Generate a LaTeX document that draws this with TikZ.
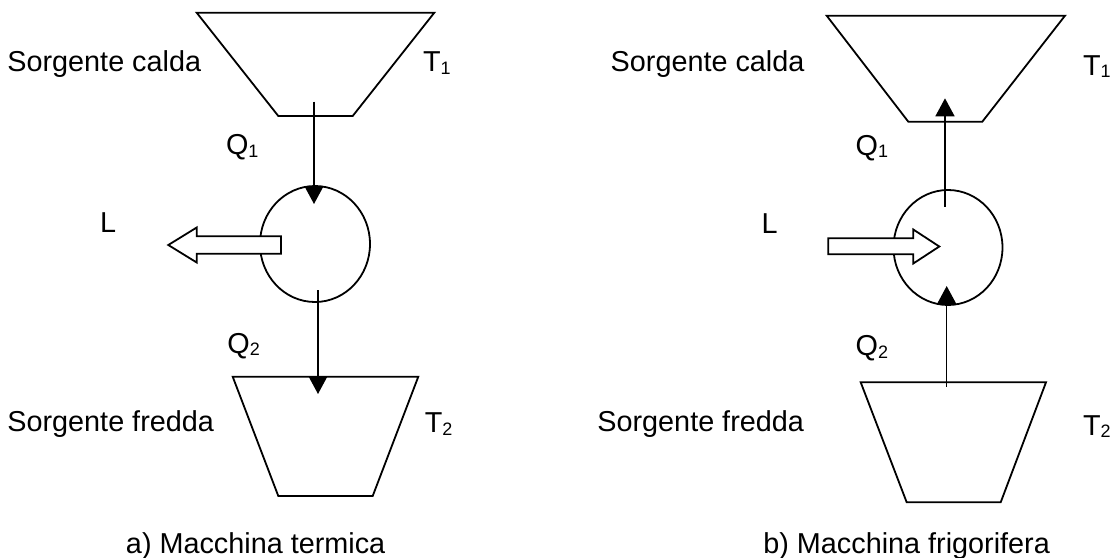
\documentclass[tikz,border=0pt]{standalone}
\usepackage{fontspec}
\setmainfont{Liberation Sans}
\usetikzlibrary{shapes.geometric,arrows.meta,calc}
\newcommand\subidx[1]{\raisebox{-1.4pt}{\fontsize{9}{10}\selectfont #1}}
\begin{document}
\begin{tikzpicture}[x=0.5pt,y=-0.5pt]
\tikzset{
  lbl/.style={anchor=base west, inner sep=0, font=\fontsize{14.4}{17}\selectfont},
  shapeline/.style={line width=0.9pt, line join=miter},
  flow/.style={line width=0.75pt, -{Triangle[length=9pt,width=9.5pt]}},
  blockarrow/.style={draw, fill=white, line width=0.9pt},
  engine/.style={ellipse, draw, line width=0.9pt, inner sep=0}
}
\useasboundingbox (0,0) rectangle (1116,558);

% ---------- a) Macchina termica ----------
\draw[shapeline] (196.7,12.7) -- (434.3,12.7) -- (352.7,116) -- (278.3,116) -- cycle;
\draw[shapeline] (232.7,376.7) -- (418.3,376.7) -- (372.7,496) -- (278.3,496) -- cycle;
\node[engine, minimum width=55pt, minimum height=58pt] (eA) at (315,244) {};
\coordinate (hotA) at (314,101.7);
\coordinate (inA1) at (314,204);
\coordinate (outA) at (318,290);
\coordinate (coldA) at (318,394);
\draw[flow] (hotA) -- (inA1);
\draw[flow] (outA) -- (coldA);
\draw[blockarrow] (281,236.3) -- (196.7,236.3) -- (196.7,227.5) -- (168.3,245)
  -- (196.7,262.5) -- (196.7,253.7) -- (281,253.7) -- cycle;

\node[lbl] (scA) at (7,71.7) {Sorgente calda};
\node[lbl] (t1A) at (422.7,71.7) {T\subidx{1}};
\node[lbl] (q1A) at (225.6,154.3) {Q\subidx{1}};
\node[lbl] (lA) at (99.6,232.3) {L};
\node[lbl] (q2A) at (227,353) {Q\subidx{2}};
\node[lbl] (sfA) at (7,431.7) {Sorgente fredda};
\node[lbl] (t2A) at (424.4,432.3) {T\subidx{2}};
\node[lbl] (capA) at (125.6,553.5) {a) Macchina termica};

% ---------- b) Macchina frigorifera ----------
\draw[shapeline] (826.7,15.7) -- (1065,15.7) -- (982.3,121.7) -- (908.3,121.7) -- cycle;
\draw[shapeline] (860.7,382.3) -- (1046,382.3) -- (1000.7,502.3) -- (906.7,502.3) -- cycle;
\node[engine, minimum width=54.5pt, minimum height=57.5pt] (eB) at (948,247.5) {};
\coordinate (outB) at (945,206.7);
\coordinate (hotB) at (945,98.3);
\coordinate (coldB) at (946.7,386.7);
\coordinate (inB) at (946.7,286);
\draw[flow] (outB) -- (hotB);
\draw[flow] (coldB) -- (inB);
\draw[blockarrow] (828.3,238.3) -- (913.3,238.3) -- (913.3,229.5) -- (939.3,246.5)
  -- (913.3,263.5) -- (913.3,254.3) -- (828.3,254.3) -- cycle;

\node[lbl] (scB) at (610.3,71.7) {Sorgente calda};
\node[lbl] (t1B) at (1082.7,75) {T\subidx{1}};
\node[lbl] (q1B) at (855.3,155) {Q\subidx{1}};
\node[lbl] (lB) at (761.2,233.3) {L};
\node[lbl] (q2B) at (855.3,355.5) {Q\subidx{2}};
\node[lbl] (sfB) at (597,431.7) {Sorgente fredda};
\node[lbl] (t2B) at (1082.7,435) {T\subidx{2}};
\node[lbl] (capB) at (763,553) {b) Macchina frigorifera};
\end{tikzpicture}
\end{document}
